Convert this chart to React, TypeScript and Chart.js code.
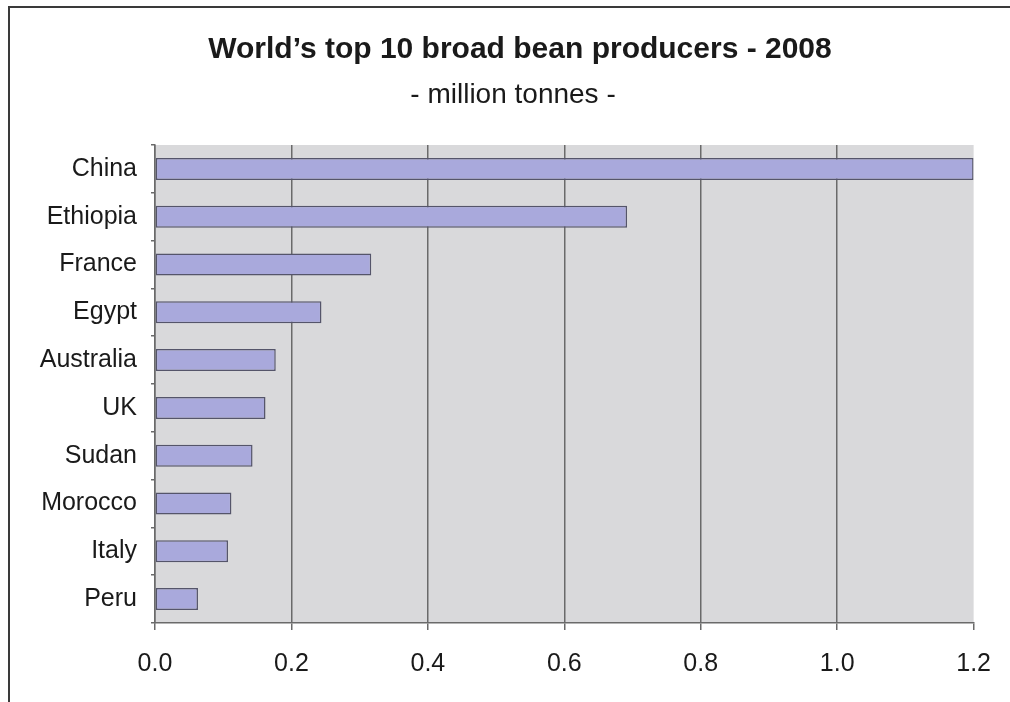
import React, { useEffect, useRef } from "react";
import { Chart, registerables } from "chart.js";

Chart.register(...registerables);

// Broad bean production, 2008 (million tonnes)
const countries: string[] = [
  "China",
  "Ethiopia",
  "France",
  "Egypt",
  "Australia",
  "UK",
  "Sudan",
  "Morocco",
  "Italy",
  "Peru",
];
const production: number[] = [1.2, 0.692, 0.317, 0.244, 0.177, 0.162, 0.143, 0.112, 0.107, 0.063];
const xTickValues: number[] = [0, 0.2, 0.4, 0.6, 0.8, 1.0, 1.2];

const titleText = "World\u2019s top 10 broad bean producers - 2008";
const subtitleText = "- million tonnes -";

const FONT = '"Liberation Sans", Arial, Helvetica, sans-serif';

// Fills the plotting area with a light grey panel before anything else is drawn
const plotBackground = {
  id: "plotBackground",
  beforeDraw(chart: Chart) {
    const { ctx, chartArea } = chart;
    if (!chartArea) return;
    ctx.save();
    ctx.fillStyle = "#d9d9db";
    ctx.fillRect(chartArea.left, chartArea.top, chartArea.right - chartArea.left, chartArea.bottom - chartArea.top);
    ctx.restore();
  },
};

// Heading block above the plot, centred over the page rather than the layout box
const heading = {
  id: "heading",
  afterDraw(chart: Chart) {
    const { ctx } = chart;
    ctx.save();
    ctx.fillStyle = "#1a1a1a";
    ctx.textAlign = "center";
    ctx.textBaseline = "middle";
    ctx.font = `bold 30px ${FONT}`;
    ctx.fillText(titleText, 520, 50);
    ctx.font = `normal 28px ${FONT}`;
    ctx.fillText(subtitleText, 513, 95);
    ctx.restore();
  },
};

export default function App() {
  const canvasRef = useRef<HTMLCanvasElement | null>(null);

  useEffect(() => {
    if (!canvasRef.current) return;
    const chart = new Chart(canvasRef.current, {
      type: "bar",
      data: {
        labels: countries,
        datasets: [
          {
            data: production,
            backgroundColor: "#a9a9dc",
            borderColor: "#55556a",
            borderWidth: 1.5,
            borderSkipped: false,
            barPercentage: 0.46,
            categoryPercentage: 1,
          },
        ],
      },
      options: {
        indexAxis: "y",
        animation: false,
        responsive: false,
        maintainAspectRatio: false,
        layout: { padding: { left: 10, right: 34, top: 145, bottom: 23 } },
        plugins: {
          legend: { display: false },
          tooltip: { enabled: false },
          title: { display: false },
          subtitle: { display: false },
        },
        scales: {
          x: {
            type: "linear",
            min: 0,
            max: 1.2,
            afterBuildTicks: (scale: any) => {
              scale.ticks = xTickValues.map((v) => ({ value: v }));
            },
            afterFit: (scale: any) => {
              scale.height = 56;
            },
            ticks: {
              color: "#1a1a1a",
              font: { family: FONT, size: 25 },
              padding: 19,
              maxRotation: 0,
              callback: (v: any) => Number(v).toFixed(1),
            },
            grid: {
              display: true,
              drawTicks: true,
              tickLength: 7,
              tickColor: "#6a6a6a",
              lineWidth: 1.5,
              color: (ctx: any) =>
                ctx.tick && Math.abs(ctx.tick.value - 1.2) < 1e-6 ? "rgba(0,0,0,0)" : "#6a6a6a",
            },
            border: { display: true, color: "#6a6a6a", width: 1.5 },
          },
          y: {
            type: "category",
            afterFit: (scale: any) => {
              scale.width = 145;
            },
            ticks: {
              color: "#1a1a1a",
              font: { family: FONT, size: 25 },
              padding: 14,
            },
            grid: {
              display: true,
              offset: true,
              drawOnChartArea: false,
              drawTicks: true,
              tickLength: 4,
              tickColor: "#6a6a6a",
              lineWidth: 1.5,
            },
            border: { display: true, color: "#6a6a6a", width: 1.5 },
          },
        },
      },
      plugins: [plotBackground, heading],
    });
    return () => chart.destroy();
  }, []);

  return (
    <div
      style={{
        position: "absolute",
        left: 0,
        top: 0,
        width: 1010,
        height: 702,
        background: "#ffffff",
        overflow: "hidden",
      }}
    >
      <canvas ref={canvasRef} width={1010} height={702} style={{ position: "absolute", left: 0, top: 0 }} />
      {/* frame lines along the top and left edges */}
      <div style={{ position: "absolute", left: 8, top: 6, width: 1002, height: 2, background: "#3a3a3a" }} />
      <div style={{ position: "absolute", left: 8, top: 6, width: 2, height: 696, background: "#3a3a3a" }} />
    </div>
  );
}
